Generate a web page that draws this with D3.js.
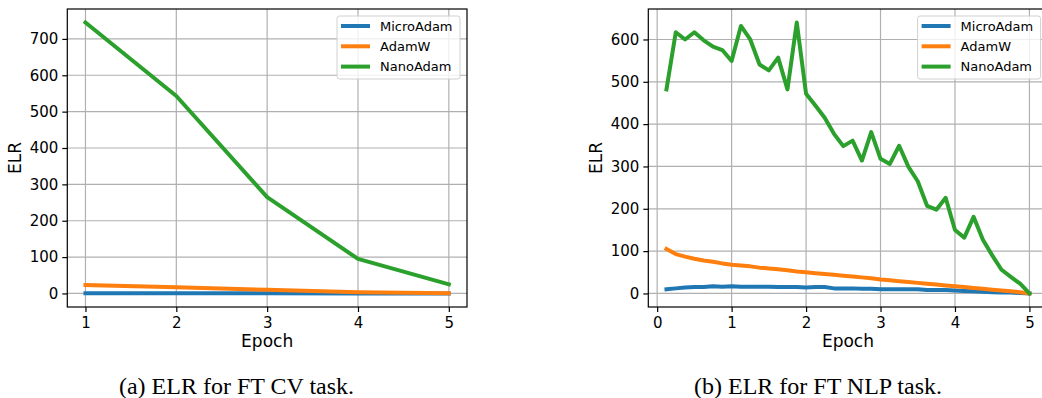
<!DOCTYPE html>
<html>
<head>
<meta charset="utf-8">
<script src="https://cdn.jsdelivr.net/npm/d3@7"></script>
<style>
body { margin: 0; background: #fff; }
svg { display: block; }
</style>
</head>
<body>
<script>
// series names and colours (matplotlib tab10)
var seriesNames = ["MicroAdam", "AdamW", "NanoAdam"];
var seriesColors = ["#1f77b4", "#ff7f0e", "#2ca02c"];

// (a) FT CV task, one point per epoch
var cvEpochs = [1, 2, 3, 4, 5];
var cvMicroAdam = [0.5, 0.4, 0.3, 0.2, 0.1];
var cvAdamW = [23, 17, 10, 3, 0.5];
var cvNanoAdam = [745, 543, 265, 95, 25];
var cvTicksX = [1, 2, 3, 4, 5];
var cvTicksY = [0, 100, 200, 300, 400, 500, 600, 700];

// (b) FT NLP task, eight points per epoch
var nlpEpochs = [0.125, 0.25, 0.375, 0.5, 0.625, 0.75, 0.875, 1.0,
	1.125, 1.25, 1.375, 1.5, 1.625, 1.75, 1.875, 2.0,
	2.125, 2.25, 2.375, 2.5, 2.625, 2.75, 2.875, 3.0,
	3.125, 3.25, 3.375, 3.5, 3.625, 3.75, 3.875, 4.0,
	4.125, 4.25, 4.375, 4.5, 4.625, 4.75, 4.875, 5.0];
var nlpMicroAdam = [10, 12, 14, 15, 15, 17, 16, 17,
	16, 16, 16, 16, 15, 15, 15, 14,
	15, 15, 12, 12, 12, 11, 11, 10,
	10, 10, 10, 10, 8, 8, 8, 7,
	6, 5, 4, 3, 2, 2, 1, 0];
var nlpAdamW = [105, 93, 87, 82, 78, 75, 71, 68,
	66, 64, 61, 59, 57, 55, 52, 50,
	48, 46, 44, 42, 40, 38, 36, 33,
	31, 29, 27, 25, 23, 21, 19, 17,
	15, 13, 11, 9, 7, 5, 3, 0];
var nlpNanoAdam = [482, 617, 600, 617, 598, 583, 575, 549,
	632, 600, 541, 527, 557, 482, 640, 472,
	444, 415, 377, 348, 361, 314, 381, 318,
	306, 349, 299, 265, 207, 198, 226, 150,
	132, 181, 127, 90, 56, 39, 23, 0];
var nlpTicksX = [0, 1, 2, 3, 4, 5];
var nlpTicksY = [0, 100, 200, 300, 400, 500, 600];

var captions = ["(a) ELR for FT CV task.", "(b) ELR for FT NLP task."];

var svg = d3.select("body").append("svg").attr("width", 1042).attr("height", 398);

var tickFont = "DejaVu Sans, sans-serif";

function drawPanel(p) {
	var x = d3.scaleLinear().domain(p.xDomain).range([p.left, p.right]);
	var y = d3.scaleLinear().domain(p.yDomain).range([p.bottom, p.top]);
	var g = svg.append("g");

	//Grid lines.
	g.selectAll(".gx").data(p.ticksX).enter().append("line")
		.attr("x1", function(d) { return x(d); }).attr("x2", function(d) { return x(d); })
		.attr("y1", p.top).attr("y2", p.bottom)
		.attr("stroke", "#b0b0b0").attr("stroke-width", 1.2);
	g.selectAll(".gy").data(p.ticksY).enter().append("line")
		.attr("y1", function(d) { return y(d); }).attr("y2", function(d) { return y(d); })
		.attr("x1", p.left).attr("x2", p.right)
		.attr("stroke", "#b0b0b0").attr("stroke-width", 1.2);

	//Lines, clipped to the axes box.
	var clipId = "clip" + p.id;
	svg.append("clipPath").attr("id", clipId).append("rect")
		.attr("x", p.left).attr("y", p.top)
		.attr("width", p.right - p.left).attr("height", p.bottom - p.top);
	var line = d3.line().x(function(d) { return x(d[0]); }).y(function(d) { return y(d[1]); });
	p.series.forEach(function(vals, i) {
		var pts = p.xs.map(function(v, j) { return [v, vals[j]]; });
		g.append("path").attr("d", line(pts)).attr("clip-path", "url(#" + clipId + ")")
			.attr("fill", "none").attr("stroke", seriesColors[i]).attr("stroke-width", 4)
			.attr("stroke-linejoin", "round").attr("stroke-linecap", "square");
	});

	//Axes.
	var ax = g.append("g").attr("transform", "translate(0," + p.bottom + ")")
		.call(d3.axisBottom(x).tickValues(p.ticksX).tickSize(5).tickPadding(5).tickFormat(d3.format("d")));
	var ay = g.append("g").attr("transform", "translate(" + p.left + ",0)")
		.call(d3.axisLeft(y).tickValues(p.ticksY).tickSize(5).tickPadding(4).tickFormat(d3.format("d")));
	[ax, ay].forEach(function(a) {
		a.select(".domain").remove();
		a.selectAll("line").attr("stroke", "#000").attr("stroke-width", 1.2);
		a.selectAll("text").attr("fill", "#000").style("font-family", tickFont).style("font-size", "15px");
	});

	//Spines.
	g.append("rect").attr("x", p.left).attr("y", p.top)
		.attr("width", p.right - p.left).attr("height", p.bottom - p.top)
		.attr("fill", "none").attr("stroke", "#000").attr("stroke-width", 1.2);

	//Legend.
	var lx = p.right - 7 - 123, ly = p.top + 7;
	var lg = g.append("g");
	lg.append("rect").attr("x", lx).attr("y", ly).attr("width", 123).attr("height", 63)
		.attr("rx", 2.5).attr("fill", "#fff").attr("fill-opacity", 0.8)
		.attr("stroke", "#d0d0d0").attr("stroke-width", 1);
	seriesNames.forEach(function(name, i) {
		var ry = ly + 10 + i * 20.3;
		lg.append("line").attr("x1", lx + 4).attr("x2", lx + 33).attr("y1", ry).attr("y2", ry)
			.attr("stroke", seriesColors[i]).attr("stroke-width", 4);
		lg.append("text").attr("x", lx + 43).attr("y", ry + 4.8).text(name)
			.style("font-family", tickFont).style("font-size", "13px").attr("fill", "#000");
	});

	//Axis labels and caption.
	g.append("text").attr("x", (p.left + p.right) / 2).attr("y", 347).attr("text-anchor", "middle")
		.style("font-family", tickFont).style("font-size", "17px").text("Epoch");
	g.append("text").attr("transform", "translate(" + (p.yLabelX) + "," + ((p.top + p.bottom) / 2) + ") rotate(-90)")
		.attr("text-anchor", "middle").style("font-family", tickFont).style("font-size", "17px").text("ELR");
	svg.append("text").attr("x", p.captionX).attr("y", 394).attr("text-anchor", "middle")
		.style("font-family", "Liberation Serif, Times New Roman, serif").style("font-size", "24px")
		.text(p.caption);
}

drawPanel({
	id: "a", left: 67.3, right: 467, top: 9, bottom: 307,
	xDomain: [0.8, 5.2], yDomain: [-37.25, 782.25],
	ticksX: cvTicksX, ticksY: cvTicksY,
	xs: cvEpochs, series: [cvMicroAdam, cvAdamW, cvNanoAdam],
	yLabelX: 21, captionX: 236.5, caption: captions[0]
});

drawPanel({
	id: "b", left: 648.3, right: 1047.6, top: 9, bottom: 307,
	xDomain: [-0.119, 5.244], yDomain: [-32, 672],
	ticksX: nlpTicksX, ticksY: nlpTicksY,
	xs: nlpEpochs, series: [nlpMicroAdam, nlpAdamW, nlpNanoAdam],
	yLabelX: 602, captionX: 818, caption: captions[1]
});
</script>
</body>
</html>
